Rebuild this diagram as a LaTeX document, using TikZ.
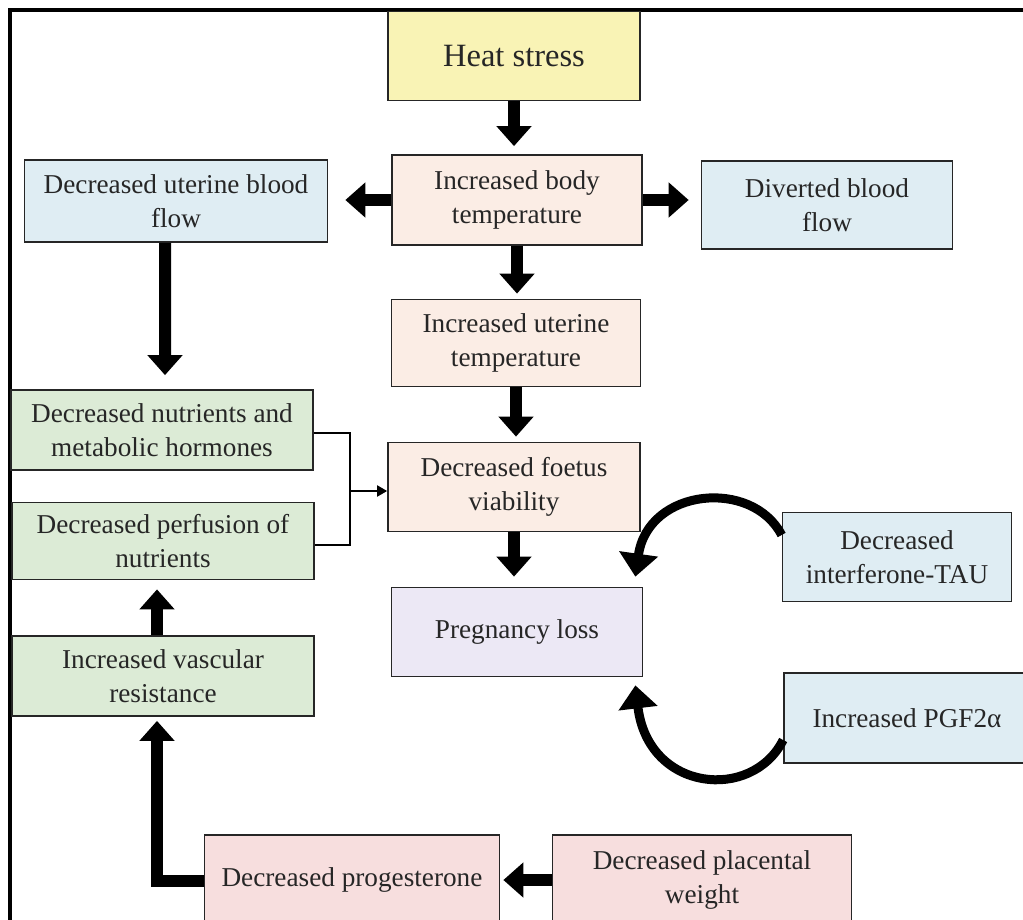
\documentclass[tikz,border=0pt]{standalone}
\usepackage{fontspec}
\setmainfont{Liberation Serif}
\usepackage{tikz}
\usetikzlibrary{arrows.meta}

\definecolor{cyellow}{RGB}{249,243,181}
\definecolor{cpeach}{RGB}{251,237,229}
\definecolor{cblue}{RGB}{223,237,243}
\definecolor{cgreen}{RGB}{220,235,214}
\definecolor{clav}{RGB}{236,232,245}
\definecolor{cpink}{RGB}{247,222,222}

\tikzset{
  box/.style={draw=black!85, line width=1pt, align=center, inner sep=2pt,
    text=black!85, font=\fontsize{15.5}{19}\selectfont},
  bigarrow/.style={line width=0.24cm, -{Triangle[width=0.68cm,length=0.4cm]}},
  bendarrow/.style={line width=0.18cm, -{Triangle[width=0.76cm,length=0.46cm]}},
  thinarrow/.style={line width=1.1pt, -{Triangle[width=0.22cm,length=0.2cm]}}
}

\begin{document}
\begin{tikzpicture}[x=0.02cm,y=-0.02cm]
\clip (0,0) rectangle (1023,919);
\fill[white] (0,0) rectangle (1023,919);
\draw[line width=1.9pt] (10,930) -- (10,10) -- (1030,10);

% centre column
\node[box, fill=cyellow, minimum width=5.04cm, minimum height=1.78cm,
  font=\fontsize{18.5}{22}\selectfont] (heat) at (514,56) {Heat stress};
\node[box, fill=cpeach, minimum width=5.0cm, minimum height=1.8cm] (body) at (517,200) {Increased body\\ temperature};
\node[box, fill=cpeach, minimum width=4.98cm, minimum height=1.74cm] (utemp) at (516,343) {Increased uterine\\ temperature};
\node[box, fill=cpeach, minimum width=5.04cm, minimum height=1.78cm] (foetus) at (514,487) {Decreased foetus\\ viability};
\node[box, fill=clav, minimum width=5.02cm, minimum height=1.78cm] (loss) at (517,632) {Pregnancy loss};

% sides
\node[box, fill=cblue, minimum width=6.06cm, minimum height=1.64cm] (ublood) at (176,201) {Decreased uterine blood\\ flow};
\node[box, fill=cblue, minimum width=5.02cm, minimum height=1.76cm] (divert) at (827,205) {Diverted blood\\ flow};
\node[box, fill=cblue, minimum width=4.58cm, minimum height=1.78cm] (tau) at (897,557) {Decreased\\ interferone-TAU};
\node[box, fill=cblue, minimum width=4.92cm, minimum height=1.8cm] (pgf) at (907,718) {Increased PGF2α};

% left column
\node[box, fill=cgreen, minimum width=6.04cm, minimum height=1.6cm] (nutr) at (162,430) {Decreased nutrients and\\ metabolic hormones};
\node[box, fill=cgreen, minimum width=6.04cm, minimum height=1.54cm] (perf) at (163,541) {Decreased perfusion of\\ nutrients};
\node[box, fill=cgreen, minimum width=6.04cm, minimum height=1.6cm] (vasc) at (163,676) {Increased vascular\\ resistance};

% bottom row
\node[box, fill=cpink, minimum width=5.9cm, minimum height=1.8cm] (prog) at (352,880) {Decreased progesterone};
\node[box, fill=cpink, minimum width=5.98cm, minimum height=1.8cm] (plac) at (702,880) {Decreased placental\\ weight};

% arrows
\draw[bigarrow, shorten >=0.16cm] (heat.south) -- (heat.south |- body.north);
\draw[bigarrow, shorten >=0.34cm] (body.west) -- (ublood.east |- body.west);
\draw[bigarrow, shorten >=0.24cm] (body.east) -- (divert.west |- body.east);
\draw[bigarrow, shorten >=0.1cm] (body.south) -- (body.south |- utemp.north);
\draw[bigarrow, shorten >=0.1cm] (utemp.south) -- (utemp.south |- foetus.north);
\draw[bigarrow, shorten >=0.2cm] (foetus.south) -- (foetus.south |- loss.north);
\draw[bigarrow, shorten >=0.28cm] ([xshift=-0.22cm]ublood.south) -- ([xshift=0.06cm]nutr.north);
\draw[bigarrow, shorten >=0.18cm] ([xshift=-0.12cm]vasc.north) -- ([xshift=-0.12cm]perf.south);
\draw[bigarrow, shorten >=0.08cm] ([yshift=-0.02cm]prog.west) -| ([xshift=-0.12cm]vasc.south);
\draw[bigarrow, shorten >=0.06cm] (plac.west) -- (prog.east);

% bracket
\coordinate (join) at (350,491);
\draw[line width=1.1pt] ([yshift=-0.06cm]nutr.east) -- ([yshift=-0.06cm]nutr.east -| join)
  -- ([yshift=-0.08cm]perf.east -| join) -- ([yshift=-0.08cm]perf.east);
\draw[thinarrow] (join) -- (foetus.west |- join);

% curved arrows
\draw[bendarrow] ([yshift=0.44cm]tau.west) .. controls (752,478) and (648,488) .. ([shift={(-8,-10)}]loss.north east);
\draw[bendarrow] ([yshift=-0.44cm]pgf.west) .. controls (752,802) and (648,792) .. ([shift={(-8,8)}]loss.south east);
\end{tikzpicture}
\end{document}
